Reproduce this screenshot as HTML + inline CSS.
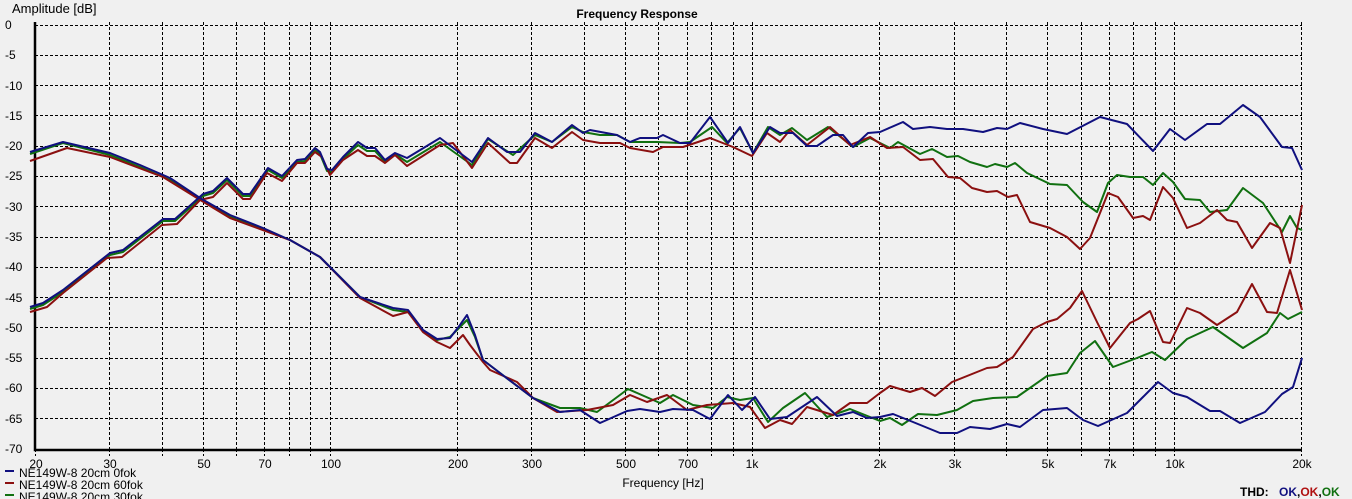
<!DOCTYPE html>
<html><head><meta charset="utf-8"><style>
html,body{margin:0;padding:0;background:#f0f0f0;}
svg{display:block;font-family:"Liberation Sans",sans-serif;}
</style></head><body>
<svg width="1352" height="499" viewBox="0 0 1352 499" xmlns="http://www.w3.org/2000/svg">
<rect width="1352" height="499" fill="#f0f0f0"/>
<g stroke="#000" stroke-width="1" stroke-dasharray="3,2" fill="none">
<path d="M35 25.5H1302M35 55.5H1302M35 85.5H1302M35 115.5H1302M35 146.5H1302M35 176.5H1302M35 206.5H1302M35 237.5H1302M35 267.5H1302M35 297.5H1302M35 327.5H1302M35 358.5H1302M35 388.5H1302M35 418.5H1302"/>
<path d="M109.5 22V449M162.5 22V449M203.5 22V449M236.5 22V449M264.5 22V449M289.5 22V449M310.5 22V449M330.5 22V449M457.5 22V449M531.5 22V449M584.5 22V449M625.5 22V449M658.5 22V449M687.5 22V449M711.5 22V449M733.5 22V449M752.5 22V449M879.5 22V449M954.5 22V449M1006.5 22V449M1047.5 22V449M1081.5 22V449M1109.5 22V449M1133.5 22V449M1155.5 22V449M1174.5 22V449M1301.5 22V449"/>
<path d="M35.5 449V456M109.5 449V456M162.5 449V456M203.5 449V456M236.5 449V456M264.5 449V456M289.5 449V456M310.5 449V456M330.5 449V456M457.5 449V456M531.5 449V456M584.5 449V456M625.5 449V456M658.5 449V456M687.5 449V456M711.5 449V456M733.5 449V456M752.5 449V456M879.5 449V456M954.5 449V456M1006.5 449V456M1047.5 449V456M1081.5 449V456M1109.5 449V456M1133.5 449V456M1155.5 449V456M1174.5 449V456M1301.5 449V456"/>
</g>
<path d="M35 22V450H1302" stroke="#000" stroke-width="2.5" fill="none"/>
<g fill="none" stroke-width="2" stroke-linejoin="round">
<polyline stroke="#107010" points="30,309 43,305 63,292 110,255 123,252 163,221 175,221 203,196 213,193 227,180 243,196 250,196 268,170 282,178 297,162 305,161 315,150 320,154 327,171 332,172 343,159 358,145 367,151 375,151 385,162 395,154 407,162 440,142 472,165 488,139 513,155 535,135 552,142 572,127 583,132 600,135 617,135 630,142 657,142 680,143 690,142 712,127 727,143 740,128 753,153 768,127 780,135 792,128 807,140 828,127 853,147 870,138 890,148 898,142 920,154 932,149 947,157 958,156 970,162 987,167 995,164 1007,167 1015,163 1027,173 1050,184 1067,185 1083,202 1097,212 1108,183 1117,175 1130,177 1143,177 1153,185 1163,173 1173,182 1185,199 1200,200 1210,212 1227,210 1243,188 1263,203 1282,232 1290,216 1297,228 1302,230"/>
<polyline stroke="#107010" points="30,154 63,143 110,155 140,167 170,180 200,199 230,217 263,229 290,240 320,257 360,297 393,310 408,312 423,331 437,340 450,337 460,327 467,320 475,337 483,360 500,373 533,398 560,408 580,408 597,412 628,389 660,403 673,395 693,405 713,408 727,397 740,400 753,398 768,422 783,408 805,393 827,417 850,409 880,421 890,418 902,425 918,414 937,415 957,410 973,401 993,398 1017,397 1047,376 1067,373 1080,353 1095,341 1113,367 1137,358 1152,352 1165,360 1187,339 1213,327 1243,348 1267,333 1280,313 1288,319 1302,312"/>
<polyline stroke="#8b1010" points="30,312 47,307 63,293 107,258 122,257 162,225 177,224 200,200 213,197 227,183 243,199 250,199 267,173 282,181 297,163 305,163 315,152 322,157 330,175 343,160 358,150 367,156 375,156 385,163 395,155 407,166 440,145 453,143 472,168 488,143 510,163 517,163 535,138 552,148 572,132 583,140 600,143 620,143 630,148 653,152 663,147 683,147 710,138 733,147 752,156 767,133 780,142 790,130 807,145 830,127 850,145 870,137 887,148 903,147 920,160 933,159 948,177 960,178 972,188 987,192 997,191 1008,197 1017,195 1030,222 1050,228 1067,237 1080,249 1090,238 1108,193 1118,197 1133,218 1143,216 1150,220 1163,187 1173,198 1187,228 1200,223 1217,210 1227,220 1237,222 1252,248 1270,223 1280,228 1290,263 1302,205"/>
<polyline stroke="#8b1010" points="30,161 67,148 110,157 163,177 197,198 230,218 290,240 320,257 360,298 393,316 408,312 423,332 437,342 450,348 463,335 470,345 483,362 490,370 517,382 533,398 557,412 587,410 613,405 630,395 647,402 667,395 687,410 707,405 733,403 750,407 765,428 780,420 792,424 807,407 833,415 850,403 867,403 880,393 890,386 910,392 922,388 935,396 952,382 987,368 997,367 1013,357 1033,329 1047,322 1057,319 1070,308 1082,291 1097,322 1110,348 1130,323 1138,319 1150,311 1163,342 1170,343 1187,308 1200,313 1217,325 1237,312 1252,284 1267,312 1277,313 1290,270 1302,310"/>
<polyline stroke="#10107f" points="30,307 43,303 63,290 110,253 123,250 163,219 175,219 203,194 213,191 227,178 243,194 250,194 268,168 282,176 297,160 305,159 315,148 320,152 327,169 332,170 343,157 358,142 367,148 375,148 385,160 395,153 407,158 440,138 472,162 488,138 507,152 520,152 535,133 552,142 572,125 583,133 590,130 617,135 630,142 640,138 657,138 663,135 680,143 690,143 710,117 728,143 740,127 753,153 770,127 780,133 793,133 807,146 817,146 833,135 843,135 853,147 868,133 880,132 903,122 913,129 930,127 947,129 963,129 983,132 997,128 1007,129 1020,123 1043,129 1067,134 1100,117 1127,124 1153,151 1170,129 1185,140 1207,124 1220,124 1243,105 1260,117 1282,147 1292,148 1302,170"/>
<polyline stroke="#10107f" points="30,152 63,142 110,153 140,165 170,178 200,198 230,215 263,228 290,240 320,257 360,297 393,308 408,310 423,330 437,339 450,338 460,325 467,315 475,335 483,360 500,373 533,398 560,412 580,410 600,423 627,411 640,409 660,412 673,409 693,410 710,419 728,395 742,410 755,397 770,419 787,417 817,397 837,416 853,412 867,418 880,417 893,414 913,422 940,433 957,433 970,427 990,429 1007,424 1020,427 1043,410 1067,408 1083,420 1098,426 1127,413 1143,397 1158,382 1173,393 1187,397 1210,411 1220,411 1240,423 1265,412 1282,394 1293,387 1302,358"/>
</g>
<g font-size="12" fill="#000">
<text x="12" y="13" font-size="13">Amplitude [dB]</text>
<text x="637" y="18" font-weight="bold" text-anchor="middle">Frequency Response</text>
<text x="5" y="29">0</text><text x="5" y="59">-5</text><text x="5" y="90">-10</text><text x="5" y="120">-15</text><text x="5" y="150">-20</text><text x="5" y="180">-25</text><text x="5" y="211">-30</text><text x="5" y="241">-35</text><text x="5" y="271">-40</text><text x="5" y="302">-45</text><text x="5" y="332">-50</text><text x="5" y="362">-55</text><text x="5" y="392">-60</text><text x="5" y="423">-65</text><text x="5" y="453">-70</text>
<g text-anchor="middle">
<text x="36" y="468">20</text><text x="110" y="468">30</text><text x="204" y="468">50</text><text x="265" y="468">70</text><text x="331" y="468">100</text><text x="458" y="468">200</text><text x="532" y="468">300</text><text x="626" y="468">500</text><text x="688" y="468">700</text><text x="752" y="468">1k</text><text x="880" y="468">2k</text><text x="955" y="468">3k</text><text x="1048" y="468">5k</text><text x="1110" y="468">7k</text><text x="1175" y="468">10k</text><text x="1302" y="468">20k</text>
<text x="663" y="487">Frequency [Hz]</text>
</g>
<text x="19" y="477">NE149W-8 20cm 0fok</text>
<text x="19" y="489">NE149W-8 20cm 60fok</text>
<text x="19" y="501">NE149W-8 20cm 30fok</text>
<text x="1240" y="496" font-weight="bold">THD:</text>
<text x="1279" y="496" font-weight="bold"><tspan fill="#10107f">OK</tspan>,<tspan fill="#b01010">OK</tspan>,<tspan fill="#107010">OK</tspan></text>
</g>
<rect x="5" y="470" width="9" height="2" fill="#10107f"/>
<rect x="5" y="482" width="9" height="2" fill="#8b1010"/>
<rect x="5" y="494" width="9" height="2" fill="#107010"/>
</svg>
</body></html>
